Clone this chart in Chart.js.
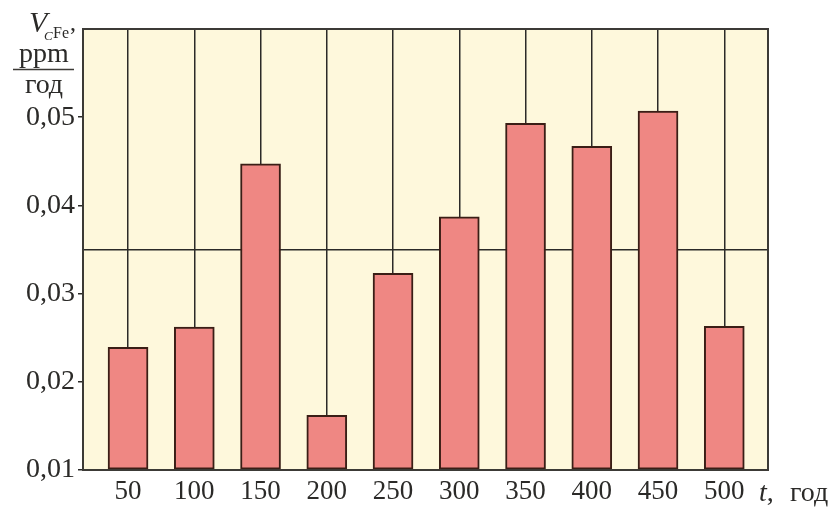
<!DOCTYPE html>
<html>
<head>
<meta charset="utf-8">
<script src="https://cdn.jsdelivr.net/npm/chart.js@4"></script>
<style>
html,body{margin:0;padding:0;background:#fff;}
#wrap{width:837px;height:510px;position:relative;}
</style>
</head>
<body>
<div id="wrap"><canvas id="c" width="837" height="510"></canvas></div>
<script>
// ---- data ----
const years = [50, 100, 150, 200, 250, 300, 350, 400, 450, 500];
const rates = [0.0239, 0.0262, 0.0447, 0.0162, 0.0323, 0.0387, 0.0493, 0.0467, 0.0507, 0.0263];
const yTicks = [0.01, 0.02, 0.03, 0.04, 0.05];
const refLevel = 0.035;
const yMin = 0.01, yMax = 0.06;
const xMin = 16, xMax = 533;

const SERIF = "'Liberation Serif', 'DejaVu Serif', serif";
const INK = '#2b2a28';

const bgPlugin = {
  id: 'bg',
  beforeDraw(chart) {
    const {ctx, chartArea: a} = chart;
    ctx.save();
    ctx.fillStyle = '#fef8dc';
    ctx.fillRect(a.left, a.top, a.right - a.left, a.bottom - a.top);
    ctx.restore();
  },
  afterDraw(chart) {
    const {ctx, chartArea: a} = chart;
    ctx.save();
    ctx.strokeStyle = '#3c3a36';
    ctx.lineWidth = 2;
    ctx.strokeRect(a.left, a.top, a.right - a.left, a.bottom - a.top);
    ctx.fillStyle = INK;
    ctx.textBaseline = 'alphabetic';
    // y-axis title
    ctx.font = "italic 30px " + SERIF;
    ctx.fillText('V', 29, 32);
    ctx.font = "italic 13px " + SERIF;
    ctx.fillText('C', 44, 40);
    ctx.font = "16px " + SERIF;
    ctx.fillText('Fe', 53, 38);
    ctx.font = "24px " + SERIF;
    ctx.fillText(',', 70, 30);
    ctx.font = "28px " + SERIF;
    ctx.textAlign = 'center';
    ctx.fillText('ppm', 44, 62);
    ctx.fillText('год', 44, 93);
    ctx.beginPath();
    ctx.lineWidth = 1.5;
    ctx.moveTo(13, 69.5);
    ctx.lineTo(74, 69.5);
    ctx.stroke();
    // x-axis title
    ctx.textAlign = 'left';
    ctx.font = "italic 28px " + SERIF;
    ctx.fillText('t', 759, 501);
    const tw = ctx.measureText('t').width;
    ctx.font = "28px " + SERIF;
    ctx.fillText(',', 759 + tw, 501);
    ctx.fillText('год', 790, 501);
    ctx.restore();
  }
};

new Chart(document.getElementById('c'), {
  type: 'bar',
  data: {
    datasets: [{
      data: years.map((x, i) => ({x: x, y: rates[i]})),
      backgroundColor: '#ef8783',
      borderColor: '#3a1e16',
      borderWidth: 2,
      borderSkipped: false,
      barThickness: 40,
      base: yMin
    }]
  },
  options: {
    responsive: false,
    animation: false,
    layout: {padding: {top: 29, right: 69, left: 0, bottom: 0}},
    plugins: {legend: {display: false}, tooltip: {enabled: false}},
    scales: {
      x: {
        type: 'linear',
        offset: false,
        min: xMin, max: xMax,
        afterBuildTicks(scale) { scale.ticks = years.map(v => ({value: v})); },
        afterFit(scale) { scale.height = 40; },
        grid: {color: INK, lineWidth: 1.5, drawTicks: false, offset: false},
        border: {display: false},
        ticks: {
          color: INK, padding: 6,
          font: {family: SERIF, size: 27},
          callback: v => String(v)
        }
      },
      y: {
        min: yMin, max: yMax,
        afterBuildTicks(scale) {
          scale.ticks = [...yTicks, refLevel].sort((a, b) => a - b).map(v => ({value: v}));
        },
        afterFit(scale) { scale.width = 83; },
        grid: {
          color: c => (c.tick && Math.abs(c.tick.value - refLevel) < 1e-9) ? INK : 'rgba(0,0,0,0)',
          tickColor: c => (c.tick && Math.abs(c.tick.value - refLevel) < 1e-9) ? 'rgba(0,0,0,0)' : INK,
          lineWidth: 1.5,
          tickLength: 5
        },
        border: {display: false},
        ticks: {
          color: INK, padding: 3,
          font: {family: SERIF, size: 28},
          callback: v => Math.abs(v - refLevel) < 1e-9 ? '' : v.toFixed(2).replace('.', ',')
        }
      }
    }
  },
  plugins: [bgPlugin]
});
</script>
</body>
</html>
